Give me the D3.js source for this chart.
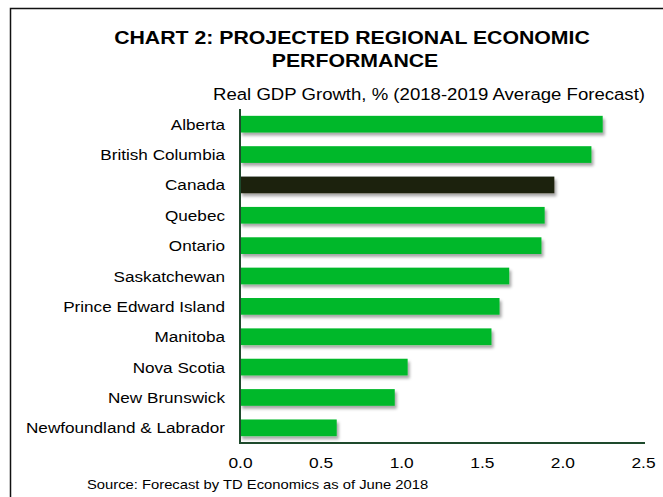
<!DOCTYPE html>
<html>
<head>
<meta charset="utf-8">
<script src="https://cdn.jsdelivr.net/npm/d3@7"></script>
<style>
  html, body { margin: 0; padding: 0; background: #fff; }
  svg { display: block; font-family: "Liberation Sans", Arial, sans-serif; }
</style>
</head>
<body>
<svg id="chart" width="663" height="497"></svg>
<script>
// Projected real GDP growth by province, 2018-2019 average forecast (%)
const regions = [
  "Alberta", "British Columbia", "Canada", "Quebec", "Ontario", "Saskatchewan",
  "Prince Edward Island", "Manitoba", "Nova Scotia", "New Brunswick",
  "Newfoundland & Labrador"
];
const growth = [2.25, 2.18, 1.95, 1.89, 1.87, 1.67, 1.61, 1.56, 1.04, 0.96, 0.60];
const xTicks = [0, 0.5, 1.0, 1.5, 2.0, 2.5];
const highlight = "Canada";

const svg = d3.select("#chart");
const W = 663, H = 497;
const SX = 1.12; // horizontal stretch of the lettering

// Text drawn with a slight horizontal stretch
function wideText(parent, x, y, str, size, anchor, weight) {
  return parent.append("text")
    .attr("transform", `translate(${x},${y}) scale(${SX},1)`)
    .attr("text-anchor", anchor || "start")
    .attr("font-size", size)
    .attr("font-weight", weight || "normal")
    .attr("fill", "#000")
    .text(str);
}

// Outer frame: top and left rules
svg.append("path")
  .attr("d", `M10.5,${H} V8.5 H${W}`)
  .attr("fill", "none").attr("stroke", "#111").attr("stroke-width", 1.5);

// Drop shadow for bars
const defs = svg.append("defs");
const f = defs.append("filter").attr("id", "shadow")
  .attr("x", "-5%").attr("y", "-30%").attr("width", "115%").attr("height", "190%");
f.append("feDropShadow").attr("dx", 2).attr("dy", 3).attr("stdDeviation", 1.6)
  .attr("flood-color", "#000").attr("flood-opacity", 0.35);

const plot = { left: 240, right: 643, top: 109, bottom: 443 };

const x = d3.scaleLinear().domain([0, 2.5]).range([plot.left, plot.right]);
const y = d3.scaleBand().domain(regions).range([plot.top, plot.bottom])
  .paddingInner(0.45).paddingOuter(0.225);

// Title
wideText(svg, 352, 44, "CHART 2: PROJECTED REGIONAL ECONOMIC", 19, "middle", "bold");
wideText(svg, 355, 67, "PERFORMANCE", 19, "middle", "bold");

// Subtitle
wideText(svg, 645, 100, "Real GDP Growth, % (2018-2019 Average Forecast)", 16.6, "end");

// Bars
const data = regions.map((r, i) => ({ region: r, value: growth[i] }));
svg.append("g").attr("filter", "url(#shadow)")
  .selectAll("rect").data(data).join("rect")
  .attr("x", x(0))
  .attr("y", d => y(d.region))
  .attr("width", d => x(d.value) - x(0))
  .attr("height", y.bandwidth())
  .attr("fill", d => d.region === highlight ? "#1d2310" : "#02b82a");

// Category labels
const labels = svg.append("g");
regions.forEach(r => {
  wideText(labels, 225, y(r) + y.bandwidth() / 2, r, 15.3, "end").attr("dy", "0.36em");
});

// Axes
const xAxis = d3.axisBottom(x).tickValues(xTicks).tickFormat(d3.format(".1f"))
  .tickSize(0).tickPadding(14);
const gx = svg.append("g").attr("transform", `translate(0,${plot.bottom})`).call(xAxis);
gx.select(".domain").attr("stroke", "#1e4a2c").attr("stroke-width", 2)
  .attr("d", `M${plot.left},0H${plot.right + 2}`);
gx.selectAll(".tick text")
  .attr("font-size", 15.5).attr("fill", "#000")
  .attr("font-family", "'Liberation Sans', Arial, sans-serif")
  .attr("transform", `scale(${SX},1)`)
  .attr("x", 0);

svg.append("line")
  .attr("x1", plot.left).attr("x2", plot.left)
  .attr("y1", plot.top).attr("y2", plot.bottom + 1)
  .attr("stroke", "#1e4a2c").attr("stroke-width", 2);

// Source note
wideText(svg, 87, 489, "Source: Forecast by TD Economics as of June 2018", 13.2, "start");
</script>
</body>
</html>
